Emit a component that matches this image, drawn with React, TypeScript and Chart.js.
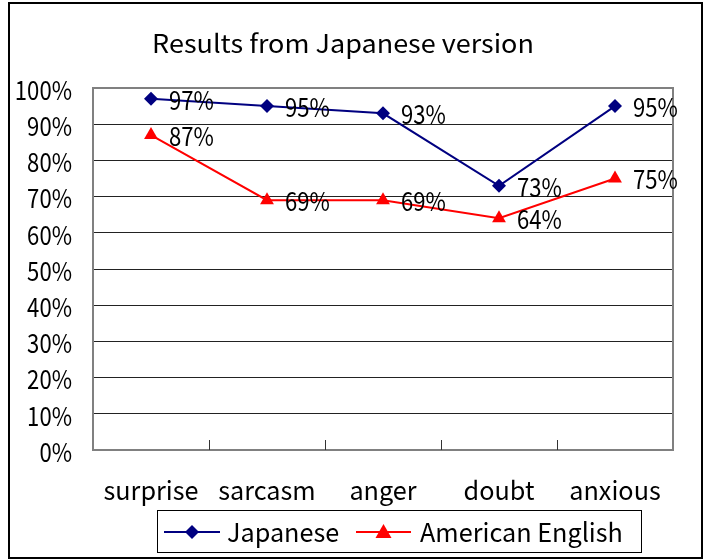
import React, { useEffect, useRef } from "react";
import { Chart, registerables } from "chart.js";

Chart.register(...registerables);

const categories = ["surprise", "sarcasm", "anger", "doubt", "anxious"];
const japanese = [97, 95, 93, 73, 95];
const americanEnglish = [87, 69, 69, 64, 75];
const yTicks = [0, 10, 20, 30, 40, 50, 60, 70, 80, 90, 100];
const titleText = "Results from Japanese version";
const seriesNames = ["Japanese", "American English"];

const FONT = "'Noto Sans CJK JP', 'Noto Sans', sans-serif";
const FS = 26;
const NAVY = "#000080";
const RED = "#ff0000";

function drawText(
  ctx: CanvasRenderingContext2D,
  text: string,
  x: number,
  y: number,
  align: CanvasTextAlign,
  size: number,
  sx: number
) {
  ctx.save();
  ctx.font = `${size}px ${FONT}`;
  ctx.fillStyle = "#000";
  ctx.textBaseline = "middle";
  ctx.textAlign = align;
  ctx.translate(x, y);
  ctx.scale(sx, 1);
  ctx.fillText(text, 0, 0);
  ctx.restore();
}

function drawMarker(ctx: CanvasRenderingContext2D, style: string, r: number, x: number, y: number, color: string) {
  ctx.save();
  ctx.fillStyle = color;
  ctx.beginPath();
  if (style === "rectRot") {
    ctx.moveTo(x, y - r);
    ctx.lineTo(x + r, y);
    ctx.lineTo(x, y + r);
    ctx.lineTo(x - r, y);
  } else {
    ctx.moveTo(x, y - r);
    ctx.lineTo(x + r, y + r * 0.75);
    ctx.lineTo(x - r, y + r * 0.75);
  }
  ctx.closePath();
  ctx.fill();
  ctx.restore();
}

const decorPlugin = {
  id: "decor",
  beforeDraw(chart: any) {
    const ctx = chart.ctx;
    ctx.save();
    ctx.fillStyle = "#fff";
    ctx.fillRect(0, 0, chart.width, chart.height);
    ctx.restore();
  },
  beforeDatasetsDraw(chart: any) {
    const { ctx, chartArea } = chart;
    const { left, right, top, bottom } = chartArea;
    ctx.save();
    ctx.strokeStyle = "#808080";
    ctx.lineWidth = 2;
    ctx.strokeRect(left, top, right - left, bottom - top);
    ctx.strokeStyle = "#333";
    ctx.lineWidth = 1;
    const n = categories.length;
    const w = (right - left) / n;
    for (let k = 1; k < n; k++) {
      const x = Math.round(left + w * k) + 0.5;
      ctx.beginPath();
      ctx.moveTo(x, bottom);
      ctx.lineTo(x, bottom - 10);
      ctx.stroke();
    }
    ctx.restore();
  },
  afterDraw(chart: any) {
    const ctx = chart.ctx;
    const xs = chart.scales.x;
    const ys = chart.scales.y;
    ctx.save();
    // outer frame
    ctx.strokeStyle = "#000";
    ctx.lineWidth = 2;
    ctx.strokeRect(9, 3, 693, 555);
    // title
    drawText(ctx, titleText, 343, 43, "center", 25, 1.08);
    // y tick labels (from the y scale)
    yTicks.forEach((v) => {
      drawText(ctx, v + "%", 72, ys.getPixelForValue(v) + 2, "right", FS, 0.85);
    });
    // x tick labels (from the x scale)
    categories.forEach((c, i) => {
      drawText(ctx, c, xs.getPixelForValue(i), 490, "center", FS, 0.97);
    });
    // data labels
    chart.data.datasets.forEach((ds: any, i: number) => {
      const meta = chart.getDatasetMeta(i);
      meta.data.forEach((pt: any, j: number) => {
        drawText(ctx, ds.data[j] + "%", pt.x + 18, pt.y + 1, "left", FS, 0.85);
      });
    });
    // legend
    ctx.strokeStyle = "#000";
    ctx.lineWidth = 1;
    ctx.strokeRect(157.5, 510.5, 484, 42);
    const ly = 532;
    const items = [
      { x1: 164, x2: 220, tx: 227, color: NAVY, style: "rectRot", r: 7, name: seriesNames[0] },
      { x1: 356, x2: 411, tx: 420, color: RED, style: "triangle", r: 8, name: seriesNames[1] },
    ];
    items.forEach((it) => {
      ctx.strokeStyle = it.color;
      ctx.lineWidth = 2;
      ctx.beginPath();
      ctx.moveTo(it.x1, ly);
      ctx.lineTo(it.x2, ly);
      ctx.stroke();
      drawMarker(ctx, it.style, it.r, (it.x1 + it.x2) / 2, ly, it.color);
      drawText(ctx, it.name, it.tx, ly, "left", FS, 0.97);
    });
    ctx.restore();
  },
};

export default function App() {
  const ref = useRef<HTMLCanvasElement | null>(null);
  useEffect(() => {
    const canvas = ref.current;
    if (!canvas) return;
    const chart = new Chart(canvas, {
      type: "line",
      data: {
        labels: categories,
        datasets: [
          {
            label: seriesNames[0],
            data: japanese,
            borderColor: NAVY,
            backgroundColor: NAVY,
            borderWidth: 2,
            pointStyle: "rectRot",
            pointRadius: 7,
            pointBorderWidth: 0,
            pointBackgroundColor: NAVY,
            tension: 0,
          },
          {
            label: seriesNames[1],
            data: americanEnglish,
            borderColor: RED,
            backgroundColor: RED,
            borderWidth: 2,
            pointStyle: "triangle",
            pointRadius: 8,
            pointBorderWidth: 0,
            pointBackgroundColor: RED,
            tension: 0,
          },
        ],
      },
      options: {
        animation: false,
        responsive: false,
        maintainAspectRatio: false,
        devicePixelRatio: 1,
        layout: { padding: { left: 0, top: 88, right: 37, bottom: 0 } },
        plugins: {
          legend: { display: false },
          title: { display: false },
          tooltip: { enabled: false },
        },
        scales: {
          x: {
            offset: true,
            grid: { display: false, drawTicks: false },
            border: { display: false },
            ticks: { display: false, autoSkip: false },
            afterFit: (s: any) => {
              s.height = 109;
            },
          },
          y: {
            min: 0,
            max: 100,
            afterBuildTicks: (s: any) => {
              s.ticks = yTicks.map((v) => ({ value: v }));
            },
            grid: { color: "#222", lineWidth: 1, drawTicks: false },
            border: { display: false },
            ticks: { display: false },
            afterFit: (s: any) => {
              s.width = 93;
            },
          },
        },
      },
      plugins: [decorPlugin],
    });
    return () => chart.destroy();
  }, []);
  return (
    <div style={{ position: "fixed", left: 0, top: 0, width: 710, height: 559, background: "#fff" }}>
      <canvas ref={ref} width={710} height={559} style={{ width: 710, height: 559, display: "block" }} />
    </div>
  );
}
